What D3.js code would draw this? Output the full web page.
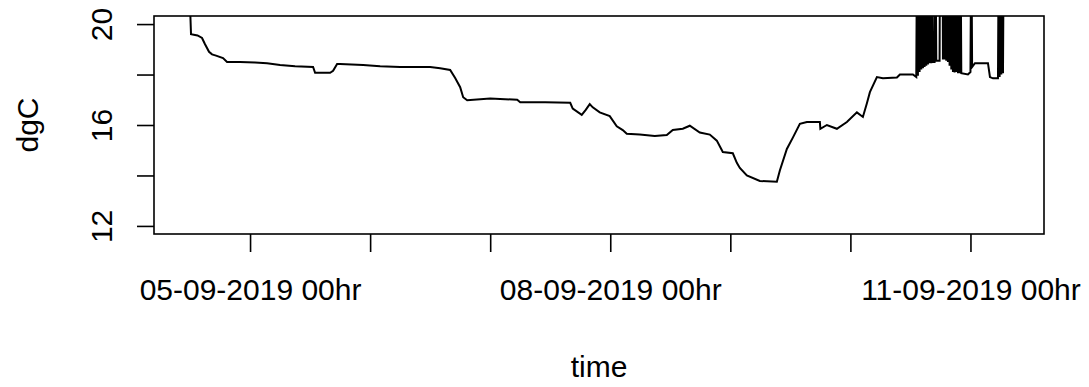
<!DOCTYPE html>
<html>
<head>
<meta charset="utf-8">
<script src="https://cdn.jsdelivr.net/npm/d3@7"></script>
<style>
  body { margin: 0; background: #fff; }
  svg { display: block; font-family: "Liberation Sans", Arial, sans-serif; }
  .axis text { font-size: 30px; fill: #000; }
  .axis line { stroke: #000; stroke-width: 1.6; }
  .label { font-size: 30px; fill: #000; }
  .series { fill: none; stroke: #000; stroke-width: 2; stroke-linejoin: miter; }
  .frame { fill: none; stroke: #000; stroke-width: 1.6; }
</style>
</head>
<body>
<svg id="chart" width="1089" height="387"></svg>
<script>
// time is kept as hours after 05-09-2019 00hr
const START = new Date(2019, 8, 5, 0, 0);

const hours = [
    -12.4, -11.8, -10.5, -9.6, -9.0, -8.2, -7.6, -6.8, -5.4, -4.6,
    -2.0, 1.0, 3.4, 6.0, 9.0, 12.6, 13.0, 16.0, 16.6, 17.4,
    18.0, 22.6, 26.0, 30.0, 36.0, 38.0, 40.0, 41.0, 42.0, 42.6,
    43.4, 48.0, 53.4, 54.0, 59.0, 64.0, 64.5, 66.3, 67.1, 67.9,
    68.5, 69.9, 71.9, 73.3, 74.5, 75.3, 77.9, 80.9, 83.3, 84.5,
    86.5, 87.9, 89.9, 91.9, 93.3, 94.5, 96.5, 97.3, 97.9, 99.3,
    101.9, 105.3, 105.9, 107.3, 108.5, 109.9, 111.3, 113.9, 114.0, 115.3,
    117.3, 119.3, 121.3, 122.5, 123.3, 123.9, 125.3, 126.5, 129.3, 129.9,
    132.5, 133.17,
    133.33, 133.5, 133.67, 133.83, 134.0, 134.17, 134.33, 134.5, 134.67, 134.83,
    135.0, 135.17, 135.33, 135.5, 135.67, 135.83, 136.0, 136.17, 136.33, 136.5,
    136.83, 137.0, 137.17, 137.83, 137.92, 138.42, 138.5,
    138.67, 138.83, 139.0, 139.17, 139.33, 139.5, 139.67, 139.83, 140.0, 140.17,
    140.33, 140.5, 140.67, 140.83, 141.0, 141.17, 141.33, 141.5, 141.67, 141.83,
    142.0, 142.17, 143.5, 144.0, 144.17, 144.33, 144.9, 147.5, 147.9, 148.5,
    149.5, 149.67, 149.83, 150.0, 150.17, 150.33, 150.5, 150.67
];

const dgC = [
    23.0, 19.6, 19.55, 19.45, 19.2, 18.9, 18.8, 18.75, 18.65, 18.5,
    18.5, 18.48, 18.45, 18.38, 18.33, 18.3, 18.07, 18.07, 18.15, 18.42,
    18.42, 18.38, 18.33, 18.3, 18.3, 18.25, 18.18, 17.86, 17.5, 17.1,
    16.98, 17.05, 17.0, 16.9, 16.9, 16.88, 16.65, 16.4, 16.6, 16.83,
    16.7, 16.5, 16.35, 15.95, 15.8, 15.65, 15.62, 15.56, 15.6, 15.8,
    15.85, 15.97, 15.7, 15.62, 15.38, 14.93, 14.88, 14.5, 14.3, 14.0,
    13.78, 13.75, 14.2, 15.05, 15.5, 16.05, 16.12, 16.12, 15.85, 16.0,
    15.85, 16.12, 16.5, 16.32, 16.86, 17.3, 17.9, 17.85, 17.88, 18.0,
    18.0, 17.9,
    24, 17.95, 24, 18.1, 24, 18.2, 24, 18.25, 24, 18.3,
    24, 18.35, 24, 18.4, 24, 18.45, 24, 18.45, 24, 18.5,
    18.5, 24, 18.55, 18.55, 24, 24, 18.6,
    24, 18.6, 24, 18.55, 24, 18.5, 24, 18.35, 24, 18.2,
    24, 18.1, 24, 18.08, 24, 18.1, 24, 18.05, 24, 18.05,
    24, 18.05, 18.0, 18.1, 24, 18.3, 18.45, 18.45, 17.9, 17.85,
    17.85, 24, 17.9, 24, 18.0, 24, 18.05, 24
];

const xTickDays = [0, 1, 2, 3, 4, 5, 6];
const xTickLabels = ["05-09-2019 00hr", "", "", "08-09-2019 00hr", "", "", "11-09-2019 00hr"];
const yTicks = [12, 14, 16, 18, 20];
const yTickLabels = ["12", "", "16", "", "20"];
const yLimits = [12, 20];
const xLimitHours = [-19.2, 158.7];

const MARGINS = {top: 16, right: 45, bottom: 153, left: 154};

function hoursToDate(h){
    return new Date(START.getTime() + h * 3600 * 1000);
}

let svg = d3.select("#chart");
let W = +svg.attr("width"),
    H = +svg.attr("height"),
    w = W - MARGINS.left - MARGINS.right,
    h = H - MARGINS.top - MARGINS.bottom;

let g = svg.append("g")
    .attr("transform", `translate(${MARGINS.left},${MARGINS.top})`);

// R style 4% padding on the y limits
let pad = (yLimits[1] - yLimits[0]) * 0.04;
let yScale = d3.scaleLinear()
    .domain([yLimits[0] - pad, yLimits[1] + pad])
    .range([h, 0]);

let xScale = d3.scaleTime()
    .domain(xLimitHours.map(hoursToDate))
    .range([0, w]);

let data = hours.map((t, i) => ({t: hoursToDate(t), v: dgC[i]}));

svg.append("defs").append("clipPath")
    .attr("id", "clip")
    .append("rect")
        .attr("width", w)
        .attr("height", h);

let drawLine = d3.line()
    .x(d => xScale(d.t))
    .y(d => yScale(d.v));

g.append("g")
    .attr("clip-path", "url(#clip)")
    .append("path")
        .datum(data)
        .attr("class", "series")
        .attr("d", drawLine);

// x axis, one tick per day but labels only every third day
let xAxis = d3.axisBottom(xScale)
    .tickValues(xTickDays.map(d => hoursToDate(d * 24)))
    .tickSize(18)
    .tickFormat((d, i) => xTickLabels[i]);

let xg = g.append("g")
    .attr("class", "axis axis-x")
    .attr("transform", `translate(0,${h})`)
    .call(xAxis);
xg.select(".domain").remove();
xg.selectAll(".tick text")
    .attr("y", 66)
    .attr("dy", null);

let yAxis = d3.axisLeft(yScale)
    .tickValues(yTicks)
    .tickSize(17)
    .tickFormat((d, i) => yTickLabels[i]);

let yg = g.append("g")
    .attr("class", "axis axis-y")
    .call(yAxis);
yg.select(".domain").remove();
yg.selectAll(".tick text")
    .attr("transform", "rotate(-90)")
    .attr("text-anchor", "middle")
    .attr("x", 0)
    .attr("y", -42)
    .attr("dy", null);

g.append("rect")
    .attr("class", "frame")
    .attr("width", w)
    .attr("height", h);

// axis titles
svg.append("text")
    .attr("class", "label")
    .attr("x", MARGINS.left + w / 2)
    .attr("y", 377)
    .attr("text-anchor", "middle")
    .text("time");

svg.append("text")
    .attr("class", "label")
    .attr("transform", `translate(38,${MARGINS.top + h / 2}) rotate(-90)`)
    .attr("text-anchor", "middle")
    .text("dgC");
</script>
</body>
</html>
